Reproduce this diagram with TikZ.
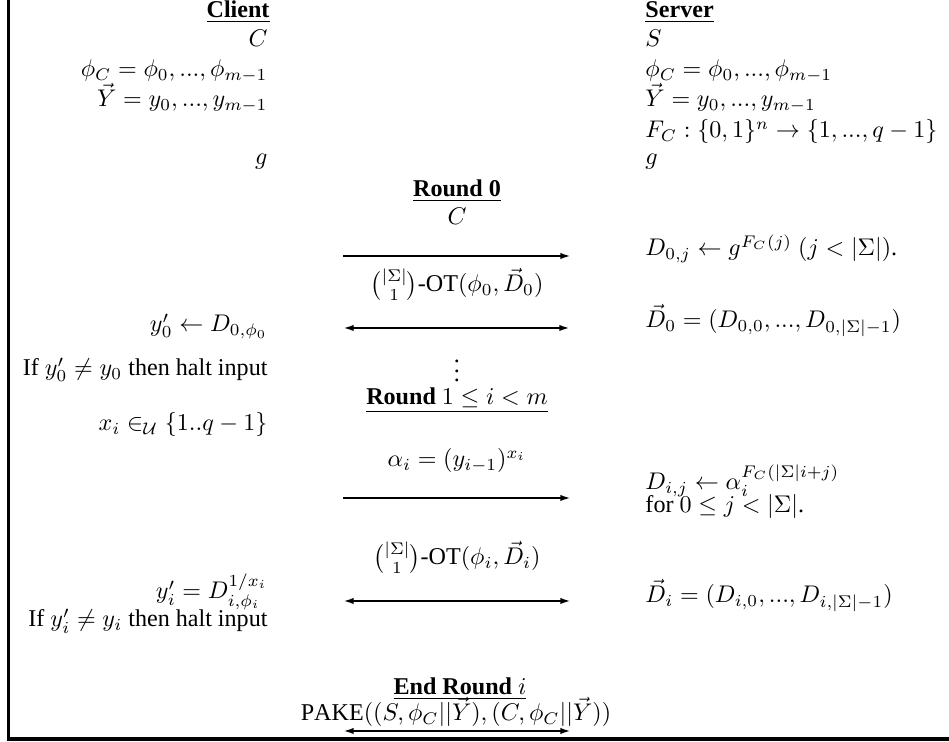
\documentclass[tikz,border=0pt]{standalone}
\usepackage{amsmath}
\usepackage{fontspec}
\setmainfont{Liberation Serif}
\usetikzlibrary{arrows.meta}
\begin{document}
\begin{tikzpicture}[x=0.415pt,y=-0.415pt,
  lt/.style={anchor=base east,inner sep=0pt},
  rt/.style={anchor=base west,inner sep=0pt},
  ct/.style={anchor=base,inner sep=0pt},
  msg/.style={line width=0.85pt,-{Latex[length=4.4pt,width=2.6pt]}},
  msgb/.style={line width=0.85pt,{Latex[length=4.4pt,width=2.6pt]}-{Latex[length=4.4pt,width=2.6pt]}},
  frame/.style={line width=1.35pt,line join=miter}]
\useasboundingbox (0,0) rectangle (949,742);
% frame
\coordinate (ftop) at (8.5,0);
\coordinate (fcorner) at (8.5,739);
\coordinate (fright) at (949,739);
\draw[frame] (ftop) -- (fcorner) -- (fright);
% client column
\node[lt] (cl) at (270,18) {\underline{\textbf{Client}}};
\node[lt] (lc) at (268,47) {$C$};
\node[lt] (lphi) at (268,77) {$\phi_C = \phi_0, ..., \phi_{m-1}$};
\node[lt] (ly) at (268,107) {$\vec{Y} = y_0, ..., y_{m-1}$};
\node[lt] (lg) at (268,165) {$g$};
\node[lt] (ly0) at (268,332) {$y'_0 \leftarrow D_{0,\phi_0}$};
\node[lt] (lif0) at (268,376) {If $y'_0 \neq y_0$ then halt input};
\node[lt] (lx) at (268,431) {$x_i \in_{\mathcal{U}} \{1..q-1\}$};
\node[lt] (lyi) at (268,599) {$y'_i = D^{1/x_i}_{i,\phi_i}$};
\node[lt] (lifi) at (268,627) {If $y'_i \neq y_i$ then halt input};
% server column
\node[rt] (sv) at (645,18) {\underline{\textbf{Server}}};
\node[rt] (rs) at (645,47) {$S$};
\node[rt] (rphi) at (645,77) {$\phi_C = \phi_0, ..., \phi_{m-1}$};
\node[rt] (ry) at (645,107) {$\vec{Y} = y_0, ..., y_{m-1}$};
\node[rt] (rf) at (645,138) {$F_C : \{0,1\}^n \rightarrow \{1, ..., q-1\}$};
\node[rt] (rg) at (645,165) {$g$};
\node[rt] (rd0j) at (645,256) {$D_{0,j} \leftarrow g^{F_C(j)}$ $(j < |\Sigma|)$.};
\node[rt] (rd0) at (645,328) {$\vec{D}_0 = (D_{0,0}, ..., D_{0,|\Sigma|-1})$};
\node[rt] (rdij) at (645,490) {$D_{i,j} \leftarrow \alpha_i^{F_C(|\Sigma|i+j)}$};
\node[rt] (rfor) at (645,513) {for $0 \leq j < |\Sigma|$.};
\node[rt] (rdi) at (645,603) {$\vec{D}_i = (D_{i,0}, ..., D_{i,|\Sigma|-1})$};
% middle
\node[ct] (r0) at (457,197) {\underline{\textbf{Round 0}}};
\node[ct] (c0) at (457,225) {$C$};
\node[ct] (ot0) at (457,292) {$\binom{|\Sigma|}{1}$-OT$(\phi_0, \vec{D}_0)$};
\node[inner sep=0pt] (vd) at (457,364) {$\vdots$};
\node[ct] (r1) at (457,405) {\underline{\textbf{Round} $1 \leq i < m$}};
\node[ct] (al) at (457,467) {$\alpha_i = (y_{i-1})^{x_i}$};
\node[ct] (oti) at (457,565) {$\binom{|\Sigma|}{1}$-OT$(\phi_i, \vec{D}_i)$};
\node[ct] (er) at (460,695) {\underline{\textbf{End Round} $i$}};
\node[ct] (pake) at (456,721) {$\mathrm{PAKE}((S,\phi_C||\vec{Y}),(C,\phi_C||\vec{Y}))$};
% arrows
\coordinate (a1l) at (343,256); \coordinate (a1r) at (571,256);
\coordinate (a2l) at (343,328); \coordinate (a2r) at (570,328);
\coordinate (a3l) at (343,498); \coordinate (a3r) at (571,498);
\coordinate (a4l) at (343,601); \coordinate (a4r) at (571,601);
\coordinate (a5l) at (343,731); \coordinate (a5r) at (571,731);
\draw[msg] (a1l) -- (a1r);
\draw[msgb] (a2l) -- (a2r);
\draw[msg] (a3l) -- (a3r);
\draw[msgb] (a4l) -- (a4r);
\draw[msgb] (a5l) -- (a5r);
\end{tikzpicture}
\end{document}
